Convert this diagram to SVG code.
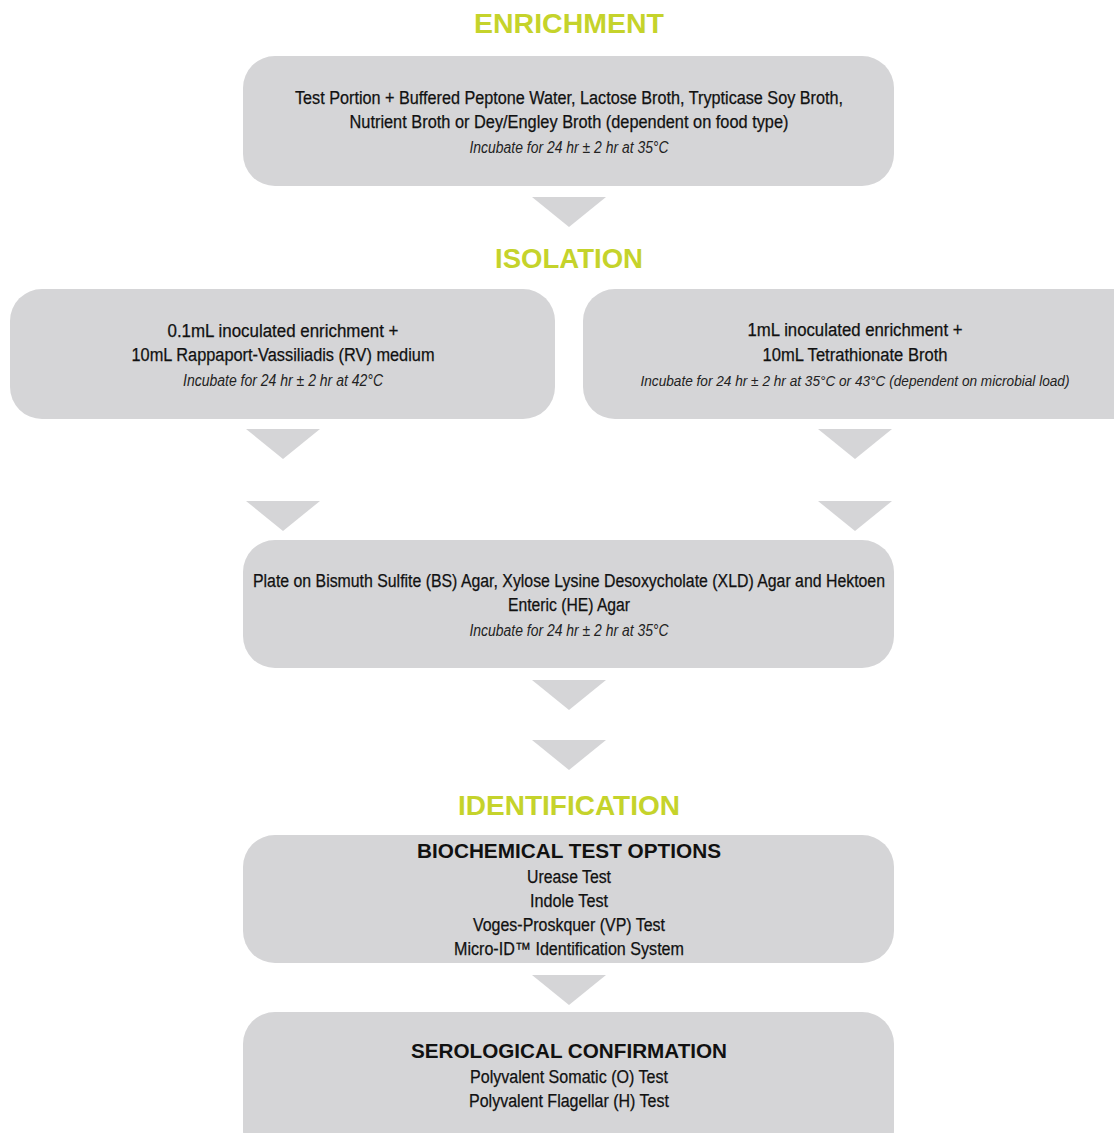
<svg xmlns="http://www.w3.org/2000/svg" width="1114" height="1133" viewBox="0 0 1114 1133">
<style>
.box{fill:#d5d5d7}
.tri{fill:#d5d5d7}
.title{font-family:"Liberation Sans",Arial,sans-serif;font-weight:bold;font-size:27.5px;fill:#c5d32b;text-anchor:middle}
.t{font-family:"Liberation Sans",Arial,sans-serif;font-size:18px;fill:#111111;text-anchor:middle;stroke:#111111;stroke-width:0.25}
.i{font-family:"Liberation Sans",Arial,sans-serif;font-style:italic;font-size:16px;fill:#222222;text-anchor:middle}
.h{font-family:"Liberation Sans",Arial,sans-serif;font-weight:bold;font-size:19.5px;fill:#111111;text-anchor:middle}
</style>
<rect width="1114" height="1133" fill="#ffffff"/>
<text class="title" x="569" y="33" textLength="190" lengthAdjust="spacingAndGlyphs">ENRICHMENT</text>
<text class="title" x="569" y="268" textLength="148" lengthAdjust="spacingAndGlyphs">ISOLATION</text>
<text class="title" x="569" y="815" textLength="222" lengthAdjust="spacingAndGlyphs">IDENTIFICATION</text>

<g id="connectors">
<polygon class="tri" points="532,197 606,197 569,227"/>
<polygon class="tri" points="246,429 320,429 283,459"/>
<polygon class="tri" points="818,429 892,429 855,459"/>
<polygon class="tri" points="246,501 320,501 283,531"/>
<polygon class="tri" points="818,501 892,501 855,531"/>
<polygon class="tri" points="532,680 606,680 569,710"/>
<polygon class="tri" points="532,740 606,740 569,770"/>
<polygon class="tri" points="532,975 606,975 569,1005"/>
</g>

<g id="enrichment">
<rect class="box" x="243" y="56" width="651" height="130" rx="32"/>
<text class="t" x="569" y="104" textLength="548" lengthAdjust="spacingAndGlyphs">Test Portion + Buffered Peptone Water, Lactose Broth, Trypticase Soy Broth,</text>
<text class="t" x="569" y="128" textLength="439" lengthAdjust="spacingAndGlyphs">Nutrient Broth or Dey/Engley Broth (dependent on food type)</text>
<text class="i" x="569" y="153" textLength="199" lengthAdjust="spacingAndGlyphs">Incubate for 24 hr ± 2 hr at 35°C</text>
</g>

<g id="rv">
<rect class="box" x="10" y="289" width="545" height="130" rx="32"/>
<text class="t" x="283" y="337" textLength="231" lengthAdjust="spacingAndGlyphs">0.1mL inoculated enrichment +</text>
<text class="t" x="283" y="361" textLength="303" lengthAdjust="spacingAndGlyphs">10mL Rappaport-Vassiliadis (RV) medium</text>
<text class="i" x="283" y="386" textLength="200" lengthAdjust="spacingAndGlyphs">Incubate for 24 hr ± 2 hr at 42°C</text>
</g>

<g id="tt">
<rect class="box" x="583" y="289" width="531" height="130" rx="32"/>
<rect class="box" x="1080" y="289" width="34" height="130"/>
<text class="t" x="855" y="336" textLength="215" lengthAdjust="spacingAndGlyphs">1mL inoculated enrichment +</text>
<text class="t" x="855" y="361" textLength="185" lengthAdjust="spacingAndGlyphs">10mL Tetrathionate Broth</text>
<text class="i" x="855" y="386" style="font-size:15px" textLength="429" lengthAdjust="spacingAndGlyphs">Incubate for 24 hr ± 2 hr at 35°C or 43°C (dependent on microbial load)</text>
</g>

<g id="plate">
<rect class="box" x="243" y="540" width="651" height="128" rx="32"/>
<text class="t" x="569" y="587" textLength="632" lengthAdjust="spacingAndGlyphs">Plate on Bismuth Sulfite (BS) Agar, Xylose Lysine Desoxycholate (XLD) Agar and Hektoen</text>
<text class="t" x="569" y="611" textLength="122" lengthAdjust="spacingAndGlyphs">Enteric (HE) Agar</text>
<text class="i" x="569" y="636" textLength="199" lengthAdjust="spacingAndGlyphs">Incubate for 24 hr ± 2 hr at 35°C</text>
</g>

<g id="biochemical">
<rect class="box" x="243" y="835" width="651" height="128" rx="32"/>
<text class="h" x="569" y="858" textLength="304" lengthAdjust="spacingAndGlyphs">BIOCHEMICAL TEST OPTIONS</text>
<text class="t" x="569" y="883" textLength="84" lengthAdjust="spacingAndGlyphs">Urease Test</text>
<text class="t" x="569" y="907" textLength="78" lengthAdjust="spacingAndGlyphs">Indole Test</text>
<text class="t" x="569" y="931" textLength="192" lengthAdjust="spacingAndGlyphs">Voges-Proskquer (VP) Test</text>
<text class="t" x="569" y="955" textLength="230" lengthAdjust="spacingAndGlyphs">Micro-ID™ Identification System</text>
</g>

<g id="serological">
<rect class="box" x="243" y="1012" width="651" height="150" rx="32"/>
<text class="h" x="569" y="1058" textLength="316" lengthAdjust="spacingAndGlyphs">SEROLOGICAL CONFIRMATION</text>
<text class="t" x="569" y="1083" textLength="198" lengthAdjust="spacingAndGlyphs">Polyvalent Somatic (O) Test</text>
<text class="t" x="569" y="1107" textLength="200" lengthAdjust="spacingAndGlyphs">Polyvalent Flagellar (H) Test</text>
</g>
</svg>
